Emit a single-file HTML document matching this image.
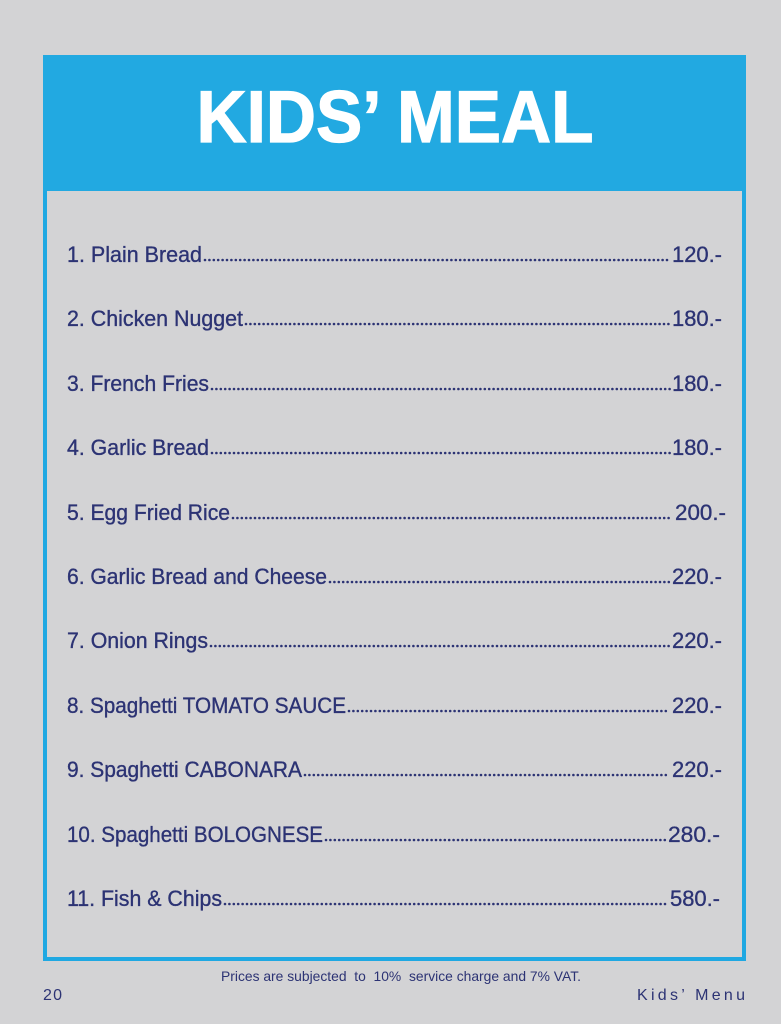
<!DOCTYPE html>
<html>
<head>
<meta charset="utf-8">
<style>
  html, body { margin: 0; padding: 0; background: #d3d3d5; }
  body { width: 781px; height: 1024px; overflow: hidden; }
  svg { display: block; }
  .item { font-family: "Liberation Sans", sans-serif; font-size: 22px; fill: #2c3374; stroke: #2c3374; stroke-width: 0.35; }
</style>
</head>
<body>
<svg width="781" height="1024" viewBox="0 0 781 1024" xmlns="http://www.w3.org/2000/svg">
  <rect x="0" y="0" width="781" height="1024" fill="#d3d3d5"/>
  <!-- frame -->
  <rect x="45" y="57" width="699" height="902" fill="none" stroke="#1fa8e2" stroke-width="4"/>
  <!-- header -->
  <rect x="43" y="55" width="703" height="136" fill="#22a9e1"/>
  <text x="395" y="142" text-anchor="middle" font-family="Liberation Sans, sans-serif" font-weight="bold" font-size="73" fill="#ffffff" stroke="#ffffff" stroke-width="1.2" textLength="397" lengthAdjust="spacingAndGlyphs">KIDS’ MEAL</text>

  <g class="item">
    <text x="67" y="262" textLength="135" lengthAdjust="spacingAndGlyphs">1. Plain Bread</text>
    <text x="672" y="262" textLength="50" lengthAdjust="spacingAndGlyphs">120.-</text>

    <text x="67" y="326" textLength="176" lengthAdjust="spacingAndGlyphs">2. Chicken Nugget</text>
    <text x="672" y="326" textLength="50" lengthAdjust="spacingAndGlyphs">180.-</text>

    <text x="67" y="391" textLength="142" lengthAdjust="spacingAndGlyphs">3. French Fries</text>
    <text x="672" y="391" textLength="50" lengthAdjust="spacingAndGlyphs">180.-</text>

    <text x="67" y="455" textLength="142" lengthAdjust="spacingAndGlyphs">4. Garlic Bread</text>
    <text x="672" y="455" textLength="50" lengthAdjust="spacingAndGlyphs">180.-</text>

    <text x="67" y="520" textLength="163" lengthAdjust="spacingAndGlyphs">5. Egg Fried Rice</text>
    <text x="675" y="520" textLength="51" lengthAdjust="spacingAndGlyphs">200.-</text>

    <text x="67" y="584" textLength="260" lengthAdjust="spacingAndGlyphs">6. Garlic Bread and Cheese</text>
    <text x="672" y="584" textLength="50" lengthAdjust="spacingAndGlyphs">220.-</text>

    <text x="67" y="648" textLength="141" lengthAdjust="spacingAndGlyphs">7. Onion Rings</text>
    <text x="672" y="648" textLength="50" lengthAdjust="spacingAndGlyphs">220.-</text>

    <text x="67" y="713" textLength="279" lengthAdjust="spacingAndGlyphs">8. Spaghetti TOMATO SAUCE</text>
    <text x="672" y="713" textLength="50" lengthAdjust="spacingAndGlyphs">220.-</text>

    <text x="67" y="777" textLength="235" lengthAdjust="spacingAndGlyphs">9. Spaghetti CABONARA</text>
    <text x="672" y="777" textLength="50" lengthAdjust="spacingAndGlyphs">220.-</text>

    <text x="67" y="842" textLength="256" lengthAdjust="spacingAndGlyphs">10. Spaghetti BOLOGNESE</text>
    <text x="668" y="842" textLength="52" lengthAdjust="spacingAndGlyphs">280.-</text>

    <text x="67" y="906" textLength="155" lengthAdjust="spacingAndGlyphs">11. Fish &amp; Chips</text>
    <text x="670" y="906" textLength="50" lengthAdjust="spacingAndGlyphs">580.-</text>
  </g>

  <!-- dot leaders -->
  <g stroke="#2c3374" stroke-width="2.6" stroke-linecap="round" stroke-dasharray="0 4.4" fill="none">
    <line x1="205" y1="260" x2="670" y2="260"/>
    <line x1="246" y1="324" x2="670" y2="324"/>
    <line x1="212" y1="389" x2="670" y2="389"/>
    <line x1="212" y1="453" x2="670" y2="453"/>
    <line x1="233" y1="518" x2="673" y2="518"/>
    <line x1="330" y1="582" x2="670" y2="582"/>
    <line x1="211" y1="646" x2="670" y2="646"/>
    <line x1="349" y1="711" x2="670" y2="711"/>
    <line x1="305" y1="775" x2="670" y2="775"/>
    <line x1="326" y1="840" x2="666" y2="840"/>
    <line x1="225" y1="904" x2="668" y2="904"/>
  </g>

  <!-- footer -->
  <text x="221" y="981" font-family="Liberation Sans, sans-serif" font-size="14" fill="#2c3374" textLength="360" lengthAdjust="spacingAndGlyphs" style="white-space:pre">Prices are subjected  to  10%  service charge and 7% VAT.</text>
  <text x="43" y="1000" font-family="Liberation Sans, sans-serif" font-size="16" fill="#2c3374" textLength="19" lengthAdjust="spacing">20</text>
  <text x="637" y="1000" font-family="Liberation Sans, sans-serif" font-size="16" fill="#2c3374" textLength="108" lengthAdjust="spacing">Kids’ Menu</text>
</svg>
</body>
</html>
